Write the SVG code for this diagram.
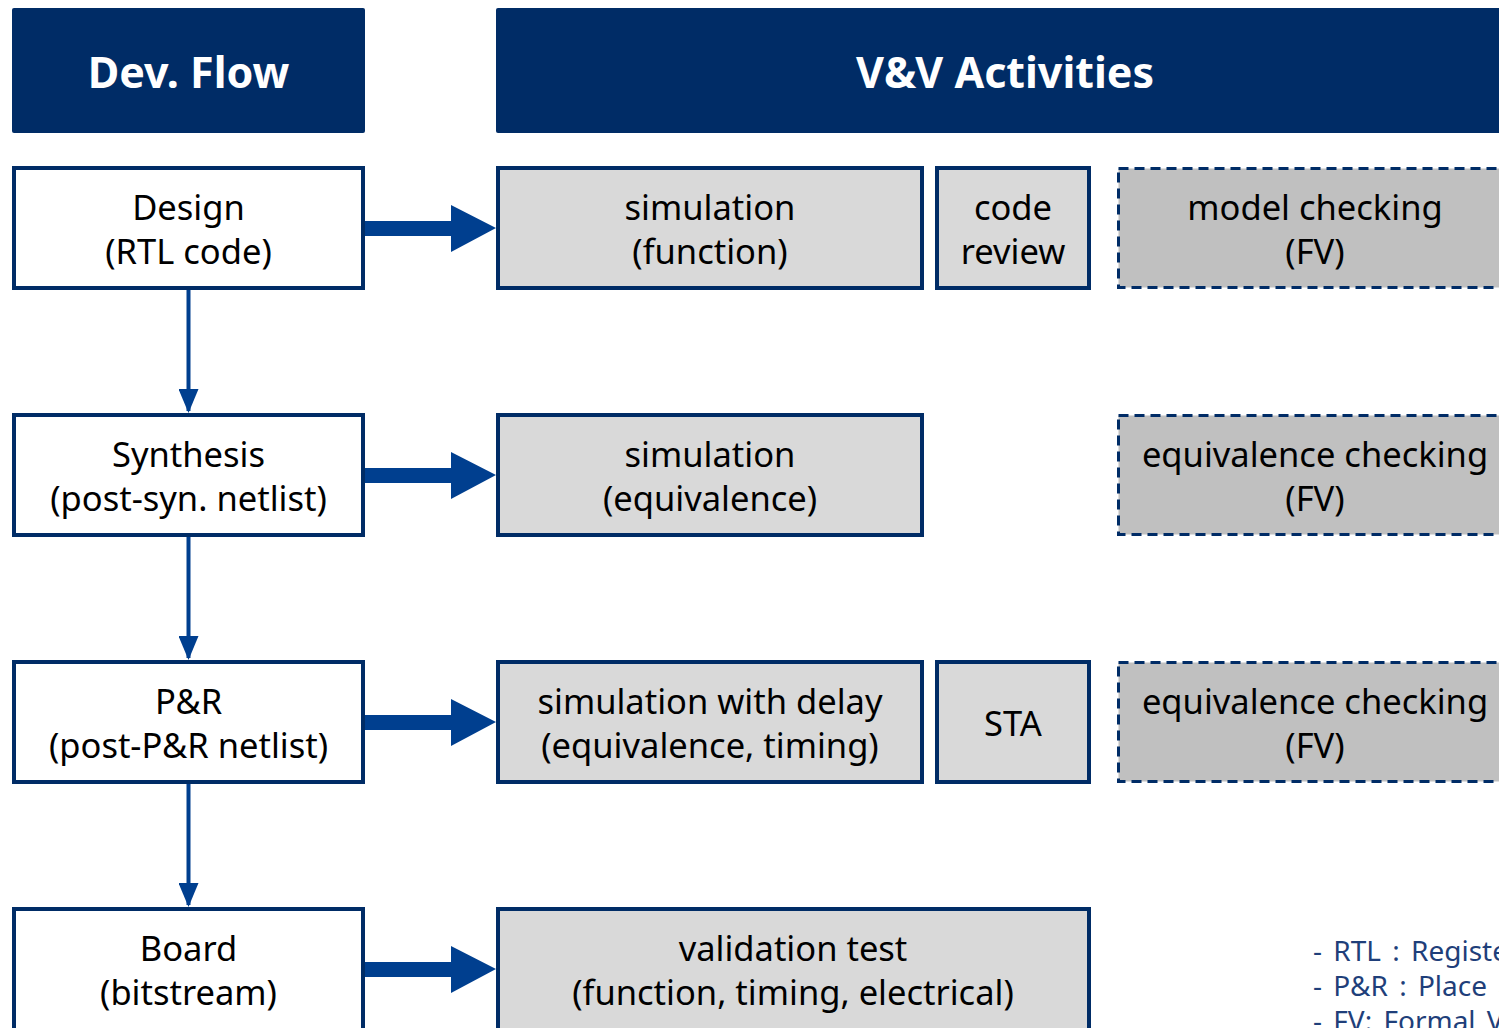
<svg xmlns="http://www.w3.org/2000/svg" width="1499" height="1028" viewBox="0 0 1499 1028">
<defs>
<style>
.hdr{fill:#002c66;}
.hdrt{font-family:"Noto Sans","DejaVu Sans",sans-serif;font-weight:bold;font-size:43px;fill:#fff;text-anchor:middle;}
.flow{fill:#fff;stroke:#002c66;stroke-width:4;}
.act{fill:#d9d9d9;stroke:#002c66;stroke-width:4;}
.fv{fill:#c0c0c0;stroke:#002c66;stroke-width:3;stroke-dasharray:10 6;}
.t{font-family:"Noto Sans","DejaVu Sans",sans-serif;font-size:34.5px;fill:#000;text-anchor:middle;}
.leg{font-family:"Noto Sans","DejaVu Sans",sans-serif;font-size:28px;fill:#1f3f7a;word-spacing:4px;}
.big{fill:#003f8f;}
.vl{stroke:#003f8f;stroke-width:4;}
</style>
<marker id="ah" markerWidth="6" markerHeight="5" refX="5.5" refY="2.5" orient="auto" markerUnits="strokeWidth"><path d="M0,0 L6,2.5 L0,5 Z" fill="#003f8f"/></marker>
</defs>
<rect width="1499" height="1028" fill="#fff"/>
<g id="hdr-dev"><rect class="hdr" x="12" y="8" width="353" height="125" rx="2"/><text class="hdrt" x="188.5" y="88">Dev. Flow</text></g>
<g id="hdr-vv"><rect class="hdr" x="496" y="8" width="1010" height="125" rx="2"/><text class="hdrt" x="1005" y="88">V&amp;V Activities</text></g>

<g id="design"><rect class="flow" x="14" y="168" width="349" height="120"/><text class="t" x="188.5" y="220">Design</text><text class="t" x="188.5" y="264">(RTL code)</text></g>
<g id="synthesis"><rect class="flow" x="14" y="415" width="349" height="120"/><text class="t" x="188.5" y="467">Synthesis</text><text class="t" x="188.5" y="511">(post-syn. netlist)</text></g>
<g id="pr"><rect class="flow" x="14" y="662" width="349" height="120"/><text class="t" x="188.5" y="714">P&amp;R</text><text class="t" x="188.5" y="758">(post-P&amp;R netlist)</text></g>
<g id="board"><rect class="flow" x="14" y="909" width="349" height="130"/><text class="t" x="188.5" y="961">Board</text><text class="t" x="188.5" y="1005">(bitstream)</text></g>

<g id="sim-func"><rect class="act" x="498" y="168" width="424" height="120"/><text class="t" x="710" y="220">simulation</text><text class="t" x="710" y="264">(function)</text></g>
<g id="code-review"><rect class="act" x="937" y="168" width="152" height="120"/><text class="t" x="1013" y="220">code</text><text class="t" x="1013" y="264">review</text></g>
<g id="model-check"><rect class="fv" x="1118.5" y="168.5" width="400" height="119"/><text class="t" x="1315" y="220">model checking</text><text class="t" x="1315" y="264">(FV)</text></g>

<g id="sim-equiv"><rect class="act" x="498" y="415" width="424" height="120"/><text class="t" x="710" y="467">simulation</text><text class="t" x="710" y="511">(equivalence)</text></g>
<g id="equiv-check-1"><rect class="fv" x="1118.5" y="415.5" width="400" height="119"/><text class="t" x="1315" y="467">equivalence checking</text><text class="t" x="1315" y="511">(FV)</text></g>

<g id="sim-delay"><rect class="act" x="498" y="662" width="424" height="120"/><text class="t" x="710" y="714">simulation with delay</text><text class="t" x="710" y="758">(equivalence, timing)</text></g>
<g id="sta"><rect class="act" x="937" y="662" width="152" height="120"/><text class="t" x="1013" y="736">STA</text></g>
<g id="equiv-check-2"><rect class="fv" x="1118.5" y="662.5" width="400" height="119"/><text class="t" x="1315" y="714">equivalence checking</text><text class="t" x="1315" y="758">(FV)</text></g>

<g id="validation"><rect class="act" x="498" y="909" width="591" height="130"/><text class="t" x="793" y="961">validation test</text><text class="t" x="793" y="1005">(function, timing, electrical)</text></g>

<g id="legend"><text class="leg" x="1313" y="961">- RTL : Register Transfer Level</text><text class="leg" x="1313" y="996">- P&amp;R : Place and Route</text><text class="leg" x="1313" y="1031">- FV: Formal Verification</text></g>

<g id="connectors">
<path class="big" d="M365,221 H451 V205 L496,228 L451,252 V236 H365 Z"/>
<path class="big" d="M365,468 H451 V452 L496,475 L451,499 V483 H365 Z"/>
<path class="big" d="M365,715 H451 V699 L496,722 L451,746 V730 H365 Z"/>
<path class="big" d="M365,962 H451 V946 L496,969 L451,993 V977 H365 Z"/>
<line class="vl" x1="188.5" y1="290" x2="188.5" y2="411" marker-end="url(#ah)"/>
<line class="vl" x1="188.5" y1="537" x2="188.5" y2="658" marker-end="url(#ah)"/>
<line class="vl" x1="188.5" y1="784" x2="188.5" y2="905" marker-end="url(#ah)"/>
</g>
</svg>
